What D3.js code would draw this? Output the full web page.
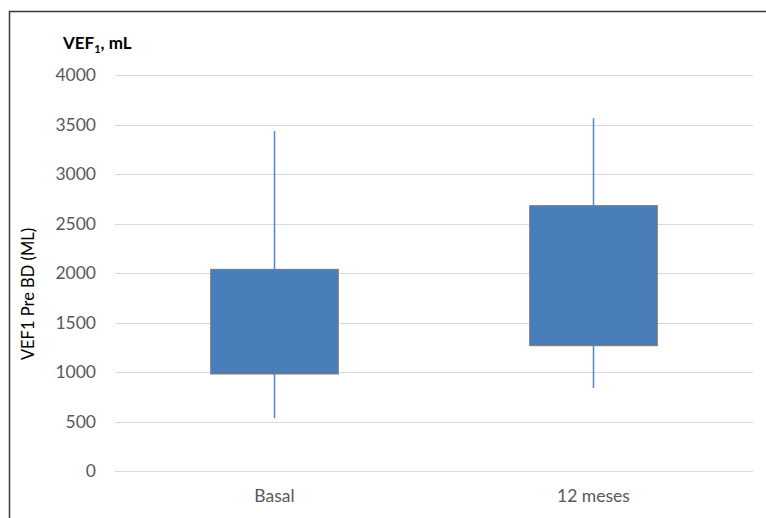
<!DOCTYPE html>
<html><head><meta charset="utf-8">
<script src="https://cdn.jsdelivr.net/npm/d3@7"></script>
<style>body{margin:0;background:#fff}svg{display:block}text{font-family:Lato,"Open Sans",sans-serif}</style>
</head><body>
<svg id="c" width="766" height="518"></svg>
<script>
const categories = ["Basal", "12 meses"];
const whiskerLow = [535, 841];
const boxLow = [983, 1269];
const boxHigh = [2040, 2683];
const whiskerHigh = [3437, 3566];
const yTicks = [0, 500, 1000, 1500, 2000, 2500, 3000, 3500, 4000];

const svg = d3.select("#c");
// outer frame
svg.append("path").attr("d","M9.5,518 V11.5 H766").attr("fill","none").attr("stroke","#3a3a3a").attr("stroke-width",1.5);

const x = d3.scaleBand().domain(categories).range([115, 753]);
const y = d3.scaleLinear().domain([0, 4000]).range([471.3, 75.3]);

// gridlines
svg.append("g").selectAll("line").data(yTicks).join("line")
  .attr("x1",115).attr("x2",753).attr("y1",d=>Math.round(y(d))+0.5).attr("y2",d=>Math.round(y(d))+0.5)
  .attr("stroke","#d9d9d9").attr("stroke-width",1.2);

// y axis labels
const yAxis = d3.axisLeft(y).tickValues(yTicks).tickFormat(d3.format("d")).tickSize(0).tickPadding(0);
const gy = svg.append("g").attr("transform","translate(96,0)").call(yAxis);
gy.select(".domain").remove();
gy.selectAll("text").attr("fill","#595959").attr("font-size",17.5).attr("font-family","Lato,sans-serif");

// x axis labels
const xAxis = d3.axisBottom(x).tickSize(0).tickPadding(0);
const gx = svg.append("g").attr("transform","translate(0,490)").call(xAxis);
gx.select(".domain").remove();
gx.selectAll("text").attr("fill","#595959").attr("font-size",17.5).attr("font-family","Lato,sans-serif");

const bw = x.bandwidth()*0.4;
const idx = categories.map((c,i)=>i);
// whiskers
svg.append("g").selectAll("line").data(idx).join("line")
  .attr("x1",i=>x(categories[i])+x.bandwidth()/2).attr("x2",i=>x(categories[i])+x.bandwidth()/2)
  .attr("y1",i=>y(whiskerHigh[i])).attr("y2",i=>y(whiskerLow[i]))
  .attr("stroke","#4f88d2").attr("stroke-width",1.5);
// boxes
svg.append("g").selectAll("rect").data(idx).join("rect")
  .attr("x",i=>x(categories[i])+x.bandwidth()/2-bw/2).attr("width",bw)
  .attr("y",i=>y(boxHigh[i])).attr("height",i=>y(boxLow[i])-y(boxHigh[i]))
  .attr("fill","#4a7eba").attr("stroke","#7a7a7a").attr("stroke-width",1);

// y axis title
svg.append("text").attr("transform","translate(34,294) rotate(-90)").attr("text-anchor","middle")
  .attr("font-size",16.5).attr("fill","#000").text("VEF1 Pre BD (ML)");

// top-left title with subscript
const t = svg.append("text").attr("x",63).attr("y",49).attr("font-size",17).attr("font-weight","bold").attr("fill","#000");
t.append("tspan").text("VEF");
t.append("tspan").attr("font-size",11).attr("dy",4).text("1");
t.append("tspan").attr("dy",-4).text(", mL");
</script>
</body></html>
